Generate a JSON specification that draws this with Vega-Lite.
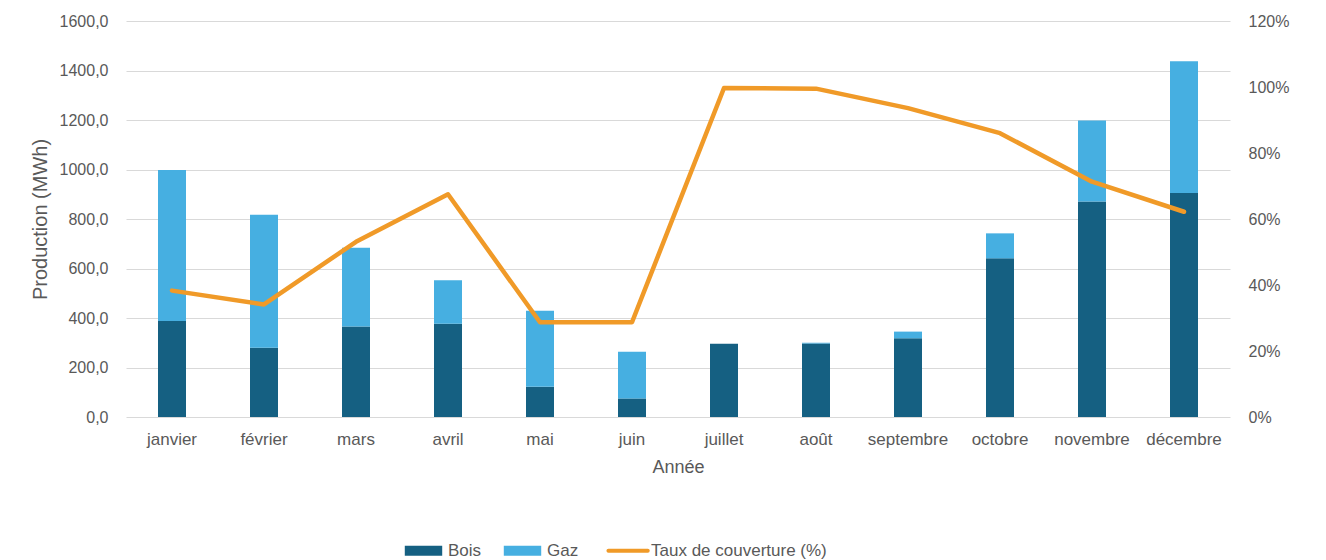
{
  "$schema": "https://vega.github.io/schema/vega-lite/v6.json",
  "width": 1104,
  "height": 396,
  "autosize": {"type": "none"},
  "padding": {"left": 126, "top": 21, "right": 96, "bottom": 143},
  "background": "white",
  "config": {
    "font": "Liberation Sans",
    "view": {"stroke": null},
    "axis": {"labelColor": "#595959", "titleColor": "#595959", "labelFontSize": 16, "titleFontSize": 18, "titleFontWeight": "normal", "domain": false, "ticks": false, "gridColor": "#d9d9d9", "gridWidth": 1}
  },
  "datasets": {
    "prod": [
      {"mois": "janvier", "source": "Bois", "valeur": 388},
      {"mois": "janvier", "source": "Gaz", "valeur": 610},
      {"mois": "février", "source": "Bois", "valeur": 280},
      {"mois": "février", "source": "Gaz", "valeur": 537},
      {"mois": "mars", "source": "Bois", "valeur": 366},
      {"mois": "mars", "source": "Gaz", "valeur": 318},
      {"mois": "avril", "source": "Bois", "valeur": 377},
      {"mois": "avril", "source": "Gaz", "valeur": 176},
      {"mois": "mai", "source": "Bois", "valeur": 122},
      {"mois": "mai", "source": "Gaz", "valeur": 307},
      {"mois": "juin", "source": "Bois", "valeur": 75},
      {"mois": "juin", "source": "Gaz", "valeur": 189},
      {"mois": "juillet", "source": "Bois", "valeur": 296},
      {"mois": "juillet", "source": "Gaz", "valeur": 0},
      {"mois": "août", "source": "Bois", "valeur": 297},
      {"mois": "août", "source": "Gaz", "valeur": 3},
      {"mois": "septembre", "source": "Bois", "valeur": 318},
      {"mois": "septembre", "source": "Gaz", "valeur": 27},
      {"mois": "octobre", "source": "Bois", "valeur": 641},
      {"mois": "octobre", "source": "Gaz", "valeur": 101},
      {"mois": "novembre", "source": "Bois", "valeur": 871},
      {"mois": "novembre", "source": "Gaz", "valeur": 327},
      {"mois": "décembre", "source": "Bois", "valeur": 905},
      {"mois": "décembre", "source": "Gaz", "valeur": 532}
    ],
    "taux": [
      {"mois": "janvier", "taux": 0.383},
      {"mois": "février", "taux": 0.341},
      {"mois": "mars", "taux": 0.531},
      {"mois": "avril", "taux": 0.675},
      {"mois": "mai", "taux": 0.287},
      {"mois": "juin", "taux": 0.287},
      {"mois": "juillet", "taux": 0.997},
      {"mois": "août", "taux": 0.995},
      {"mois": "septembre", "taux": 0.936},
      {"mois": "octobre", "taux": 0.86},
      {"mois": "novembre", "taux": 0.713},
      {"mois": "décembre", "taux": 0.622}
    ]
  },
  "encoding": {
    "x": {
      "field": "mois",
      "type": "nominal",
      "sort": ["janvier", "février", "mars", "avril", "mai", "juin", "juillet", "août", "septembre", "octobre", "novembre", "décembre"],
      "scale": {"paddingInner": 0, "paddingOuter": 0},
      "axis": {"title": "Année", "labelAngle": 0, "labelFontSize": 17, "labelPadding": 14, "titlePadding": 11, "grid": false}
    }
  },
  "layer": [
    {
      "data": {"name": "prod"},
      "mark": {"type": "bar", "width": 28},
      "encoding": {
        "y": {
          "field": "valeur",
          "type": "quantitative",
          "stack": "zero",
          "scale": {"domain": [0, 1600]},
          "axis": {"title": "Production (MWh)", "titleFontSize": 20, "values": [0, 200, 400, 600, 800, 1000, 1200, 1400, 1600], "labelExpr": "replace(format(datum.value, '.1f'), '.', ',')", "labelPadding": 18, "titlePadding": 9, "grid": true}
        },
        "order": {"field": "source", "sort": "ascending"},
        "color": {
          "field": "source",
          "type": "nominal",
          "scale": {"domain": ["Bois", "Gaz", "Taux de couverture (%)"], "range": ["#156082", "#46afe1", "#f09a28"]},
          "legend": {
            "orient": "none",
            "legendX": 289,
            "legendY": 521,
            "direction": "horizontal",
            "title": null,
            "labelFontSize": 17,
            "labelColor": "#595959",
            "labelLimit": 400,
            "symbolSize": 1400,
            "columnPadding": 21,
            "labelOffset": 16,
            "encode": {
              "symbols": {
                "update": {
                  "shape": {"signal": "datum.value === 'Taux de couverture (%)' ? 'M-1.5,0H0.6' : 'M-1,-0.27H1V0.27H-1Z'"},
                  "stroke": {"signal": "scale('color', datum.value)"},
                  "strokeWidth": {"signal": "datum.value === 'Taux de couverture (%)' ? 4 : 0"},
                  "strokeCap": {"value": "round"},
                  "fill": {"signal": "datum.value === 'Taux de couverture (%)' ? 'transparent' : scale('color', datum.value)"},
                  "opacity": {"value": 1}
                }
              },
              "labels": {
                "update": {
                  "dx": {"signal": "datum.value === 'Taux de couverture (%)' ? -10 : 0"}
                }
              }
            }
          }
        }
      }
    },
    {
      "data": {"name": "taux"},
      "mark": {"type": "line", "strokeWidth": 4.5, "strokeJoin": "round", "strokeCap": "round"},
      "encoding": {
        "y": {
          "field": "taux",
          "type": "quantitative",
          "scale": {"domain": [0, 1.2]},
          "axis": {"title": null, "orient": "right", "values": [0, 0.2, 0.4, 0.6, 0.8, 1.0, 1.2], "format": ".0%", "labelPadding": 18, "grid": false}
        },
        "color": {"datum": "Taux de couverture (%)"}
      }
    }
  ],
  "resolve": {"scale": {"y": "independent"}}
}
